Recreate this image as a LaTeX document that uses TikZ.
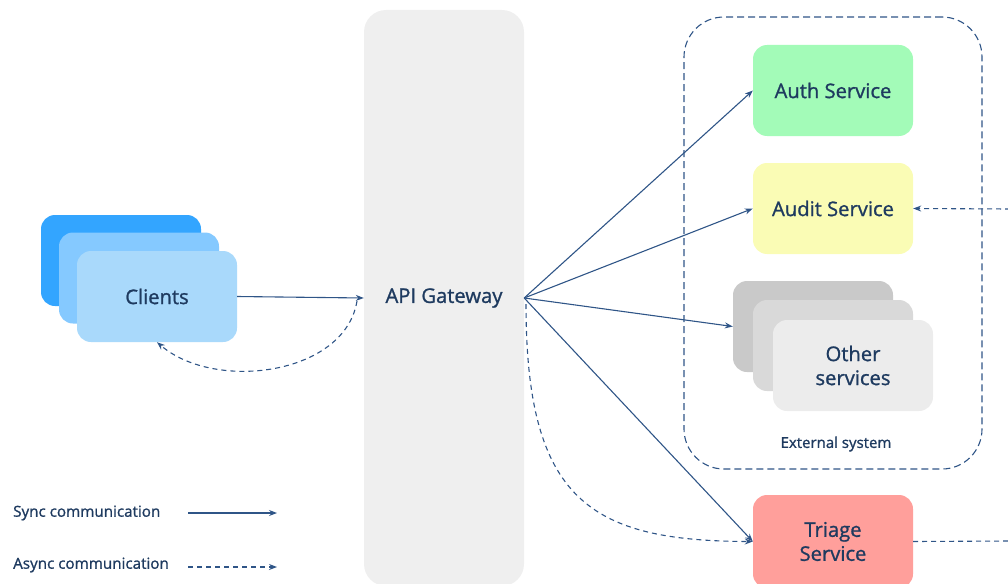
\documentclass[tikz,border=0pt]{standalone}
\usepackage{fontspec}
\setmainfont{Open Sans}[FakeBold=1.1]
\usetikzlibrary{arrows.meta}
\definecolor{ink}{HTML}{1E3A5F}
\definecolor{linec}{HTML}{2F5587}
\definecolor{gwfill}{HTML}{EFEFEF}
\definecolor{cliA}{HTML}{33A5FF}
\definecolor{cliB}{HTML}{85C9FF}
\definecolor{cliC}{HTML}{A9D9FB}
\definecolor{authc}{HTML}{A3FBB8}
\definecolor{auditc}{HTML}{FAFCB5}
\definecolor{othA}{HTML}{C9C9C9}
\definecolor{othB}{HTML}{D9D9D9}
\definecolor{othC}{HTML}{ECECEC}
\definecolor{triagec}{HTML}{FF9F9B}
\begin{document}
\begin{tikzpicture}[x=1pt,y=-1pt,
  box/.style={rectangle, rounded corners=14pt, minimum width=160pt, minimum height=91pt, inner sep=0pt, text=ink, font=\fontsize{20.2}{24}\selectfont, align=center},
  sync/.style={draw=linec, line width=1.1pt, -{Stealth[length=8pt,width=6pt]}},
  async/.style={sync, dash pattern=on 5pt off 4pt},
  legend/.style={text=ink, font=\fontsize{15.2}{18}\selectfont, anchor=west, inner sep=0pt}]
\clip (0,0) rectangle (1008,583);
% gateway
\node[box, fill=gwfill, minimum height=576pt, rounded corners=22pt] (gw) at (444,298) {API Gateway};
% clients stack
\node[box, fill=cliA] (cliback) at (121,260.5) {};
\node[box, fill=cliB] (climid) at (139,278) {};
\node[box, fill=cliC] (cli) at (157,296.5) {Clients};
% external system
\node[draw=linec, line width=1.1pt, dash pattern=on 7pt off 4pt, rounded corners=40pt, minimum width=298pt, minimum height=452pt, inner sep=0pt] (ext) at (833,243) {};
\node[text=ink, font=\fontsize{15}{18}\selectfont, inner sep=0pt] (extlbl) at (836,444) {External system};
% services
\node[box, fill=authc] (auth) at (833,90.5) {Auth Service};
\node[box, fill=auditc] (audit) at (833,208.5) {Audit Service};
\node[box, fill=othA] (othback) at (813,326.5) {};
\node[box, fill=othB] (othmid) at (833,345.5) {};
\node[box, fill=othC] (oth) at (853,365.5) {Other\\services};
\node[box, fill=triagec, minimum height=93pt] (triage) at (833,541.5) {Triage\\Service};
% connectors
\coordinate (gwl) at (357,301);
\coordinate (gwr) at (526,304);
\coordinate (rightA) at (1010,209);
\coordinate (rightT) at (1010,541);
\draw[sync] (cli.east) -- (gw.west);
\draw[async] (gwl) .. controls (345,375) and (215,392) .. (cli.south);
\draw[sync] (gw.east) -- (auth.west);
\draw[sync] (gw.east) -- (audit.west);
\draw[sync] (gw.east) -- (othback.west);
\draw[sync] (gw.east) -- (triage.west);
\draw[async] (gwr) .. controls (526,500) and (590,541) .. (triage.west);
\draw[async] (rightA) -- (audit.east);
\draw[draw=linec, line width=1.1pt, dash pattern=on 5pt off 4pt] (triage.east) -- (rightT);
% legend
\node[legend] (lsync) at (13,513) {Sync communication};
\node[legend] (lasync) at (13,565) {Async communication};
\coordinate (ls1) at (188,513);
\coordinate (ls2) at (277,513);
\coordinate (la1) at (188,567);
\coordinate (la2) at (277,567);
\draw[sync] (ls1) -- (ls2);
\draw[async] (la1) -- (la2);
\end{tikzpicture}
\end{document}
